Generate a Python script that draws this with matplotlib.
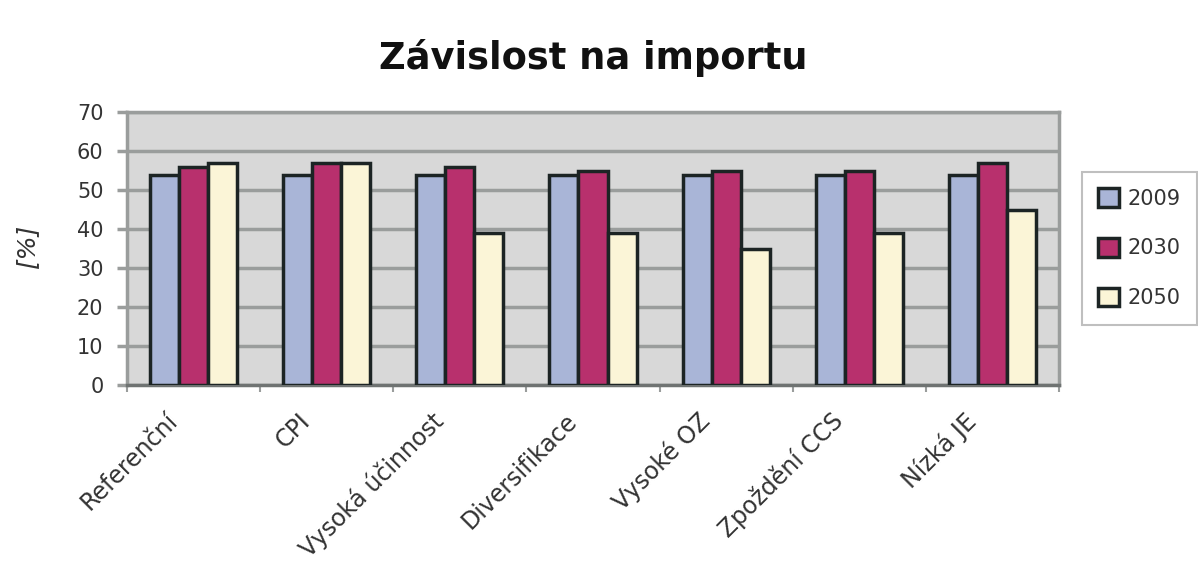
import matplotlib
matplotlib.use("Agg")
import matplotlib.pyplot as plt
import matplotlib.transforms as mtransforms
import numpy as np

plt.rcParams['font.family'] = ['DejaVu Sans']

categories = ["Referenční", "CPI", "Vysoká účinnost", "Diversifikace",
              "Vysoké OZ", "Zpoždění CCS", "Nízká JE"]
years = ["2009", "2030", "2050"]
v2009 = [54, 54, 54, 54, 54, 54, 54]
v2030 = [56, 57, 56, 55, 55, 55, 57]
v2050 = [57, 57, 39, 39, 35, 39, 45]
series = [v2009, v2030, v2050]
colors = ["#a9b5d7", "#b8306d", "#fbf5d7"]
yticks = [0, 10, 20, 30, 40, 50, 60, 70]

fig = plt.figure(figsize=(11.98, 5.64), dpi=100)
ax = fig.add_axes([0.106, 0.317, 0.778, 0.484])
ax.set_facecolor("#d8d8d8")

x = np.arange(len(categories))
w = 0.218
for i, (vals, c, lab) in enumerate(zip(series, colors, years)):
    ax.bar(x + (i - 1) * w, vals, width=w, color=c, edgecolor="#1c2424",
           linewidth=2.5, label=lab, zorder=3)

ax.set_xlim(-0.5, len(categories) - 0.5)
ax.set_ylim(0, 70)
ax.set_yticks(yticks)
ax.yaxis.grid(True, color="#9a9d9c", linewidth=2.5, zorder=1)
ax.tick_params(axis='y', length=7, width=2.5, color="#9a9d9c", labelsize=15,
               labelcolor="#333333", pad=10)
ax.set_xticks(np.arange(-0.5, len(categories), 1), minor=True)
ax.set_xticks(x)
ax.set_xticklabels(categories, rotation=45, ha="right", va="center",
                   rotation_mode="anchor", fontsize=17, color="#333333")
ax.tick_params(axis='x', which='major', length=0, pad=0)
ax.tick_params(axis='x', which='minor', length=5, width=1.5, color="#9a9d9c")
offset = mtransforms.ScaledTranslation(-20 / 100, -32 / 100, fig.dpi_scale_trans)
for lbl in ax.get_xticklabels():
    lbl.set_transform(lbl.get_transform() + offset)
for s in ["left", "bottom", "top", "right"]:
    ax.spines[s].set_color("#9a9d9c")
    ax.spines[s].set_linewidth(2.5)
ax.spines["bottom"].set_color("#6f7372")

ax.set_ylabel("[%]", fontsize=18, style="italic", color="#333333")
ax.yaxis.set_label_coords(-0.094, 0.51)
fig.text(0.495, 0.898, "Závislost na importu", ha="center", va="center",
         fontsize=26.5, fontweight="bold", color="#111111")

leg = fig.legend(loc="center left", bbox_to_anchor=(0.903, 0.56), fontsize=15,
                 frameon=True, fancybox=False, edgecolor="#b0b0b0",
                 handlelength=1.0, handleheight=1.0, handletextpad=0.4,
                 labelspacing=1.4, borderpad=0.8, borderaxespad=0)
leg.get_frame().set_linewidth(1.5)
for t in leg.get_texts():
    t.set_color("#333333")

fig.savefig("out.png", dpi=100, facecolor="white")
